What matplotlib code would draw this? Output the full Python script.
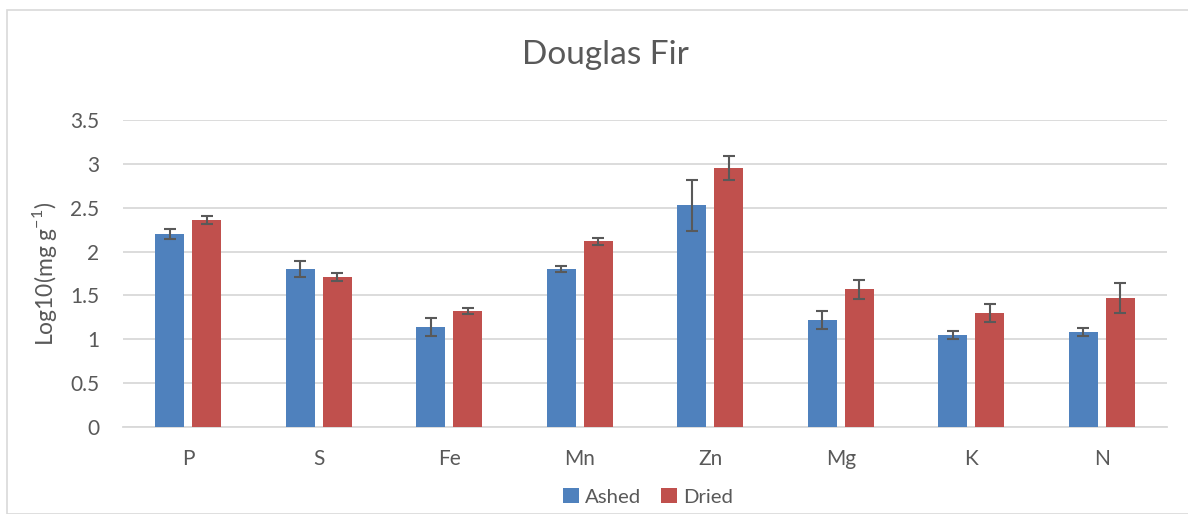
import matplotlib.pyplot as plt
from matplotlib.patches import Rectangle
import numpy as np

# data
elements = ['P', 'S', 'Fe', 'Mn', 'Zn', 'Mg', 'K', 'N']
ashed = [2.20, 1.80, 1.14, 1.80, 2.53, 1.22, 1.05, 1.08]
ashed_err = [0.057, 0.09, 0.10, 0.035, 0.29, 0.107, 0.048, 0.045]
dried = [2.36, 1.71, 1.32, 2.12, 2.95, 1.57, 1.30, 1.47]
dried_err = [0.045, 0.05, 0.035, 0.04, 0.135, 0.108, 0.10, 0.17]

plt.rcParams['font.family'] = ['Lato', 'DejaVu Sans']
plt.rcParams['mathtext.fontset'] = 'custom'
plt.rcParams['mathtext.rm'] = 'Lato'
gray = '#595959'

fig = plt.figure(figsize=(11.88, 5.14), dpi=100)
ax = fig.add_axes([123 / 1188, 1 - 427 / 514, (1167 - 123) / 1188, (427 - 120) / 514])

x = np.arange(len(elements))
w = 0.222
off = 0.142
err_kw = dict(ecolor=gray, elinewidth=1.5, capsize=4.5, capthick=1.5)
ax.bar(x - off, ashed, w, yerr=ashed_err, color='#4F81BD', label='Ashed',
       error_kw=err_kw, zorder=3)
ax.bar(x + off, dried, w, yerr=dried_err, color='#C0504D', label='Dried',
       error_kw=err_kw, zorder=3)

ax.set_xlim(-0.5, len(elements) - 0.5)
ax.set_ylim(0, 3.5)
ax.set_yticks(np.arange(0, 3.51, 0.5))
ax.set_yticklabels(['0', '0.5', '1', '1.5', '2', '2.5', '3', '3.5'])
ax.set_xticks(x)
ax.set_xticklabels(elements)
ax.tick_params(length=0, labelsize=15, labelcolor=gray)
ax.tick_params(axis='x', pad=16)
ax.tick_params(axis='y', pad=17)
ax.grid(axis='y', color='#d9d9d9', linewidth=1.3, zorder=0)
ax.set_axisbelow(True)
for s in ['top', 'right', 'left']:
    ax.spines[s].set_visible(False)
ax.spines['bottom'].set_color('#d9d9d9')
ax.spines['bottom'].set_linewidth(1.3)

ax.set_ylabel('Log10(mg g$^{\\mathrm{-1}}$)', fontsize=16.5, color=gray, labelpad=8)
fig.text(605 / 1188, 1 - 55 / 514, 'Douglas Fir', fontsize=24, color=gray,
         ha='center', va='center')

leg = fig.legend(loc='center', bbox_to_anchor=(648 / 1188, 1 - 497 / 514), ncol=2,
                 frameon=False, fontsize=14.7, handlelength=0.75, handleheight=0.75,
                 handletextpad=0.3, columnspacing=1.0)
for t in leg.get_texts():
    t.set_color(gray)

fig.patches.append(Rectangle((7 / 1188, 0), 1.5, 1 - 10 / 514, transform=fig.transFigure,
                             fill=False, edgecolor='#d9d9d9', linewidth=1.2))

fig.savefig('out.png', dpi=100)
